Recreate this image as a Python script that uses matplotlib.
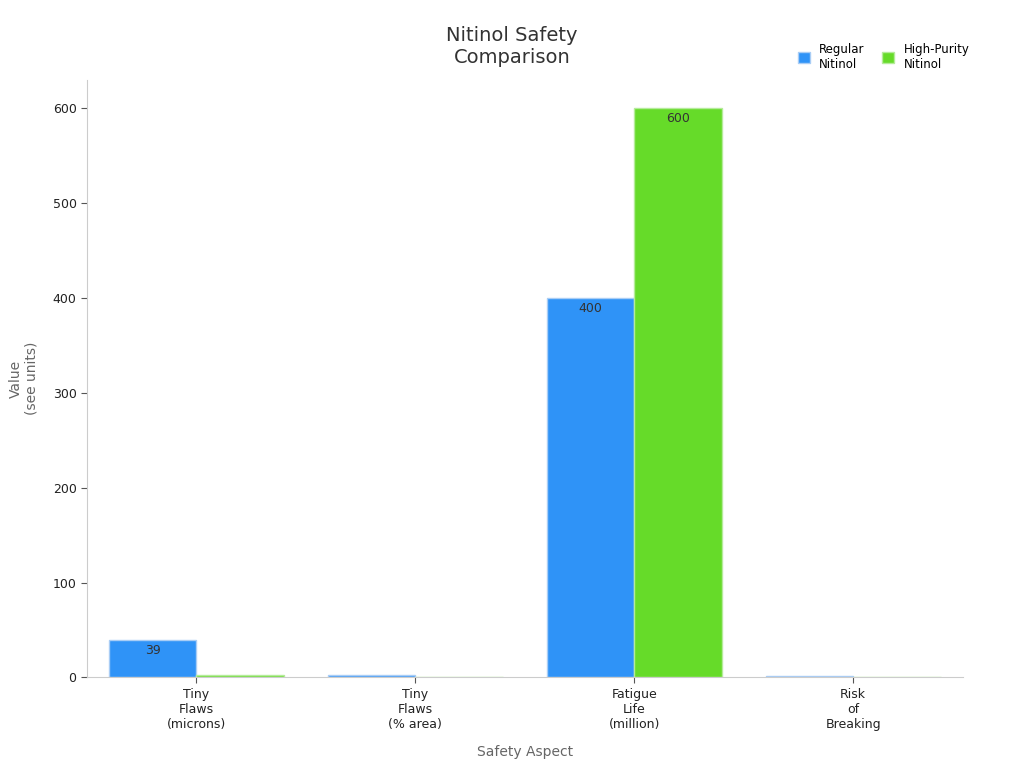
import matplotlib.pyplot as plt
import numpy as np

categories = ["Tiny\nFlaws\n(microns)", "Tiny\nFlaws\n(% area)", "Fatigue\nLife\n(million)", "Risk\nof\nBreaking"]
regular = [39, 2.5, 400, 1]
high_purity = [2.5, 0.1, 600, 0.1]
series_names = ["Regular\nNitinol", "High-Purity\nNitinol"]

fig = plt.figure(figsize=(10.24, 7.68), dpi=100)
ax = fig.add_axes([0.085, 0.118, 0.855, 0.778])
x = np.arange(len(categories))
w = 0.4
c1, c2 = "#2f93f7", "#66db29"
b1 = ax.bar(x - w/2, regular, w, color=c1, edgecolor="#a9cdf5", linewidth=1, label=series_names[0])
b2 = ax.bar(x + w/2, high_purity, w, color=c2, edgecolor="#b5eb9a", linewidth=1, label=series_names[1])
for bars in (b1, b2):
    for r in bars:
        h = r.get_height()
        ax.text(r.get_x() + r.get_width()/2, h - 4, f"{h:g}" if h > 5 else "", ha="center", va="top",
                fontsize=9, color="#333333")

ax.set_xlim(-0.5, 3.5)
ax.set_ylim(0, 630)
ax.set_yticks([0, 100, 200, 300, 400, 500, 600])
ax.set_xticks(x)
ax.set_xticklabels(categories, fontsize=9, color="#222222")
ax.tick_params(axis="y", labelsize=9, colors="#222222")
ax.tick_params(axis="both", color="#555555", length=4)
for s in ["top", "right"]:
    ax.spines[s].set_visible(False)
for s in ["left", "bottom"]:
    ax.spines[s].set_color("#cccccc")
ax.set_xlabel("Safety Aspect", fontsize=10, color="#666666", labelpad=10)
ax.set_ylabel("Value\n(see units)", fontsize=10, color="#666666", labelpad=10)
fig.text(0.5, 0.94, "Nitinol Safety\nComparison", ha="center", va="center", fontsize=14, color="#333333")
ax.legend(loc="upper right", bbox_to_anchor=(1.02, 1.08), ncol=2, frameon=False, fontsize=8.5,
          handlelength=1, handleheight=1, columnspacing=1.5)
fig.savefig("out.png")
